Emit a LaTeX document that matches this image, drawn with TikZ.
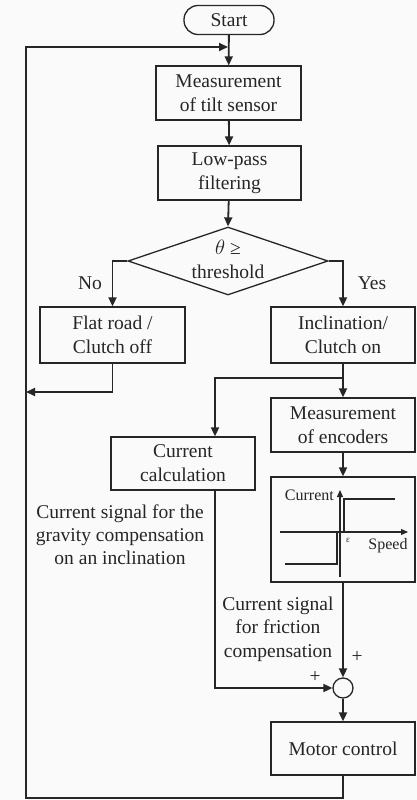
\documentclass[tikz,border=0pt]{standalone}
\usepackage{fontspec}
\setmainfont{Liberation Serif}
\newfontfamily\tnr{Liberation Serif}
\usetikzlibrary{shapes.geometric,arrows.meta,calc}
\begin{document}
\begin{tikzpicture}[x=1pt,y=-1pt,
  every node/.style={text=black!85},
  mainfont/.style={font=\tnr\fontsize{19.5}{24}\selectfont},
  procbox/.style={draw=black!85, line width=1.3pt, minimum width=144pt, minimum height=54pt, align=center, inner sep=0pt, mainfont},
  conn/.style={draw=black!85, line width=1.8pt},
  arr/.style={conn, -{Triangle[length=9pt,width=8pt]}},
  lbl/.style={align=center, inner sep=0pt, mainfont},
  small/.style={inner sep=0pt, font=\tnr\fontsize{16}{19}\selectfont}
]
\fill[black!2] (0,0) rectangle (417,800);
\useasboundingbox (0,0) rectangle (417,800);

% nodes
\node[draw=black!85, line width=1.3pt, rounded corners=14pt, minimum width=90pt, minimum height=29pt, inner sep=0pt, mainfont] (start) at (229,20) {Start};
\node[procbox, minimum width=145pt] (m1) at (228.5,93) {Measurement\\of tilt sensor};
\node[procbox, minimum width=143pt] (lp) at (229.5,173) {Low-pass\\filtering};
\node[draw=black!85, line width=1.3pt, diamond, minimum width=200pt, minimum height=68pt, inner sep=0pt] (dia) at (228,261) {};
\node[lbl, font=\tnr\fontsize{19.5}{24}\selectfont] (diat) at (228,259) {$\theta$ ≥\\threshold};
\node[procbox, minimum width=145pt, minimum height=56pt] (flat) at (112.5,335) {Flat road /\\Clutch off};
\node[procbox, minimum height=56pt] (incl) at (343,335) {Inclination/\\Clutch on};
\node[procbox] (enc) at (343,425) {Measurement\\of encoders};
\node[procbox, minimum height=53pt] (calc) at (183,463.5) {Current\\calculation};
\node[procbox, minimum height=105pt] (gr) at (343,529.5) {};
\node[draw=black!85, line width=1.3pt, circle, minimum size=20pt, inner sep=0pt] (sum) at (343,688) {};
\node[procbox, minimum height=53pt] (motor) at (343,748.5) {Motor control};

% labels
\node[lbl] (no) at (90,283) {No};
\node[lbl] (yes) at (372,283) {Yes};
\node[lbl, font=\tnr\fontsize{19.5}{23}\selectfont] (grav) at (120,535) {Current signal for the\\gravity compensation\\on an inclination};
\node[lbl, font=\tnr\fontsize{19.5}{23.5}\selectfont] (fric) at (278,629) {Current signal\\for friction\\compensation};
\node[lbl] (p1) at (357,657) {+};
\node[lbl] (p2) at (315,677) {+};

% coordinates
\coordinate (fbe) at (228,47);
\coordinate (fbt) at (26,47);
\coordinate (fbl) at (26,798);
\coordinate (j1) at (26,392);
\coordinate (br) at (343,378);

% connectors
\draw[arr] (start) -- (m1);
\draw[arr] (m1) -- (lp);
\draw[arr] (lp) -- (dia.north);
\draw[arr] (dia.west) -| (flat.north);
\draw[arr] (dia.east) -| (incl.north);
\draw[arr] (flat.south) |- (j1);
\draw[arr] (incl.south) -- (enc.north);
\draw[arr] (br) -| ([xshift=32pt]calc.north);
\draw[arr] (enc) -- (gr);
\draw[arr] (gr.south) -- (sum.north);
\draw[arr] ([xshift=32pt]calc.south) |- (sum.west);
\draw[arr] (sum.south) -- (motor.north);
\draw[arr] (motor.south) |- (fbl) -- (fbt) -- (fbe);

% graph inside gr
\draw[black!85, line width=1.2pt, -{Triangle[length=7pt,width=6pt]}] (280,532) -- (408,532);
\draw[black!85, line width=1.2pt, -{Triangle[length=7pt,width=6pt]}] (340,577) -- (340,490);
\draw[black!85, line width=1.8pt] (285,564) -- (337,564) -- (337,532);
\draw[black!85, line width=1.8pt] (344,532) -- (344,499) -- (395,499);
\node[small, anchor=east] (cur) at (334,495) {Current};
\node[small] (spd) at (388,546) {Speed};
\node[inner sep=0pt, font=\tnr\fontsize{9}{10}\selectfont] (eps) at (348,540) {ε};
\end{tikzpicture}
\end{document}
